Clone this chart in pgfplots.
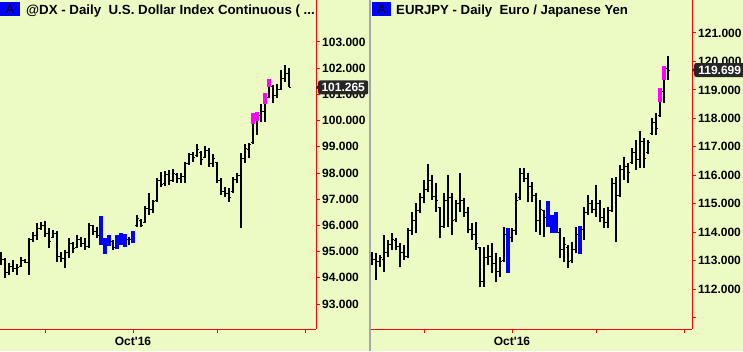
\documentclass[border=0pt]{standalone}
\usepackage{pgfplots}
\pgfplotsset{compat=1.18}
\usepackage{pgfplotstable}
\usepackage{fontspec}
\setmainfont{Liberation Sans}
\definecolor{bg}{RGB}{236,251,196}
\definecolor{pblue}{RGB}{0,0,255}
\definecolor{pmag}{RGB}{255,0,255}
\definecolor{pred}{RGB}{255,0,0}

\pgfplotstableread{
x o h l c
-11 94.60 95.00 94.49 94.70
-10 94.70 94.74 93.98 94.20
-9 94.20 94.55 94.11 94.45
-8 94.45 94.68 94.23 94.35
-7 94.35 94.53 94.09 94.40
-6 94.45 94.78 94.43 94.65
-5 94.65 94.70 94.55 94.60
-4 94.60 95.51 94.11 95.45
-3 95.45 95.76 95.38 95.60
-2 95.60 96.08 95.44 95.90
-1 95.90 96.14 95.82 96.00
0 96.00 96.18 95.57 95.70
1 95.70 95.89 95.13 95.40
2 95.55 95.82 95.51 95.70
3 95.70 95.80 94.62 94.80
4 94.80 95.00 94.62 94.75
5 94.75 95.06 94.36 94.95
6 94.95 95.51 94.74 95.30
7 95.30 95.38 94.93 95.10
8 95.15 95.63 95.13 95.45
9 95.45 95.57 95.19 95.30
10 95.30 95.51 95.06 95.20
11 95.20 96.08 95.13 96.00
12 96.00 96.02 95.63 95.75
13 95.75 95.93 95.51 95.60
17 95.40 95.44 95.06 95.15
21 95.45 95.57 95.25 95.45
23 96.00 96.40 95.95 96.25
24 96.20 96.26 95.93 96.00
25 96.10 96.75 96.08 96.65
26 96.65 97.25 96.40 96.60
27 96.60 96.97 96.46 96.90
28 96.95 97.80 96.91 97.70
29 97.70 98.05 97.45 97.55
30 97.60 98.09 97.50 97.95
31 97.95 98.11 97.54 97.70
32 97.70 98.14 97.67 98.00
33 97.95 97.99 97.60 97.80
34 97.80 97.99 97.63 97.85
35 97.85 98.43 97.60 98.35
36 98.35 98.78 98.31 98.70
37 98.70 98.81 98.43 98.60
38 98.65 99.11 98.62 98.90
39 98.80 98.85 98.31 98.50
40 98.60 99.03 98.56 98.85
41 98.85 98.94 98.24 98.35
42 98.35 98.73 98.22 98.55
43 98.40 98.43 97.60 97.70
44 97.70 97.80 97.16 97.30
45 97.30 97.48 97.10 97.20
46 97.20 97.42 96.91 97.05
47 97.30 97.86 97.22 97.75
48 97.75 98.01 97.60 97.90
49 97.90 98.75 95.89 98.55
50 98.55 99.11 98.37 98.95
51 98.90 99.13 98.56 99.10
52 99.15 100.30 99.11 100.10
53 100.10 100.32 99.45 100.20
54 100.20 100.62 99.96 100.35
55 100.35 101.07 99.96 100.90
56 100.90 101.59 100.85 101.40
57 101.30 101.36 100.66 100.95
58 100.95 101.38 100.85 101.20
59 101.20 101.93 101.17 101.60
60 101.60 102.12 101.49 101.80
61 101.80 102.02 101.27 101.265
}\dxbars

\pgfplotstableread{
x lo hi
14 95.25 96.37
15 94.90 95.53
16 95.23 95.65
18 95.09 95.65
19 95.25 95.71
20 95.19 95.67
22 95.34 95.79
}\dxblue

\pgfplotstableread{
x lo hi
52 99.87 100.30
53 100.00 100.32
55 100.63 101.07
56 101.30 101.59
}\dxmag

\pgfplotstableread{
x o h l c
-13 113.00 113.31 112.84 113.05
-12 113.05 113.25 112.31 112.95
-11 112.95 113.19 112.79 113.10
-10 113.05 113.90 112.61 113.30
-9 113.30 113.72 113.14 113.55
-8 113.55 113.96 113.37 113.75
-7 113.70 113.78 113.37 113.50
-6 113.50 113.60 112.76 113.30
-5 113.30 113.55 113.02 113.15
-4 113.15 114.13 113.08 114.05
-3 114.05 114.72 113.90 114.40
-2 114.40 115.01 113.96 114.75
-1 114.75 115.36 114.66 115.20
0 115.20 115.83 115.01 115.50
1 115.50 116.39 115.42 115.80
2 115.80 116.01 115.13 115.25
3 115.25 115.71 114.72 115.10
4 114.85 114.89 113.78 114.20
5 114.20 115.36 114.13 115.10
6 115.10 116.01 114.19 115.20
7 115.20 115.36 113.90 114.40
8 114.45 115.13 114.37 115.00
9 115.00 116.07 114.72 115.10
10 115.10 115.19 114.54 114.70
11 114.70 114.89 113.96 114.10
12 114.10 114.31 113.72 113.90
13 113.90 114.37 113.37 113.60
14 113.45 113.49 112.06 112.25
15 112.25 113.49 112.08 113.10
16 113.10 113.55 112.84 113.15
17 113.15 113.60 112.55 112.90
18 112.90 113.25 112.26 112.60
19 112.60 113.14 112.43 112.95
20 113.00 114.19 112.96 113.90
22 113.80 114.13 113.66 114.05
23 114.05 115.36 113.90 115.10
24 115.20 116.24 115.13 116.05
25 116.05 116.24 115.77 115.90
26 115.90 116.07 115.07 115.60
27 115.60 115.77 115.07 115.30
28 115.30 115.36 114.02 114.40
29 114.40 115.13 113.90 114.80
30 114.75 114.78 113.84 114.50
34 114.00 114.13 113.08 113.40
35 113.40 113.84 112.96 113.55
36 113.45 113.55 112.73 112.95
37 113.00 113.66 112.90 113.40
38 113.40 114.19 113.25 113.90
40 114.10 114.89 113.72 114.70
41 114.70 115.30 114.60 115.00
42 115.00 115.13 114.66 114.80
43 114.80 115.66 114.54 115.00
44 115.00 115.13 114.37 114.50
45 114.50 114.84 114.13 114.35
46 114.35 114.89 114.13 114.75
47 114.75 115.89 114.72 115.70
48 115.70 115.95 113.66 115.30
49 115.30 116.36 115.25 116.20
50 116.20 116.65 115.83 116.30
51 116.30 116.42 115.71 116.10
52 116.45 116.95 116.40 116.80
53 116.80 117.25 116.20 116.55
54 116.55 117.55 116.25 117.20
55 117.20 117.30 116.25 116.60
56 116.80 117.25 116.75 117.15
57 117.45 118.00 117.40 117.85
58 117.85 118.20 117.40 117.65
59 118.10 119.07 118.05 118.95
60 118.95 119.84 118.54 119.75
61 119.75 120.19 119.35 119.699
}\ejbars

\pgfplotstableread{
x lo hi
21 112.55 114.16
31 114.17 115.09
32 113.96 114.60
33 113.96 114.72
39 113.22 114.21
}\ejblue

\pgfplotstableread{
x lo hi
59 118.57 119.07
60 119.35 119.84
}\ejmag

\pgfplotsset{
  ohlc/.style={
    anchor=south west, scale only axis,
    axis x line*=bottom, axis y line*=right,
    axis line style={pred, line width=1pt, -},
    tick style={pred, line width=1pt},
    major tick length=4pt, tick align=outside,
    axis background/.style={fill=bg},
    yticklabel style={font=\bfseries\fontsize{12}{12}\selectfont, text=black, anchor=west, inner sep=0pt, xshift=2pt},
    xticklabel style={font=\bfseries\fontsize{12}{12}\selectfont, text=black, anchor=north, inner sep=0pt, yshift=-4pt},
    yticklabel={\pgfmathprintnumber[fixed, fixed zerofill, precision=3, assume math mode=true]{\tick}},
    xtick={0,22,43,65}, xticklabels={,Oct\textquotesingle 16,,},
  },
  hl/.style={draw=none, mark=none, forget plot, error bars/.cd, y dir=plus, y explicit, error mark=none,
    error bar style={draw=black, line width=1.3pt}},
  optick/.style={draw=none, mark=none, forget plot, error bars/.cd, x dir=minus, x fixed=0.55, error mark=none,
    error bar style={draw=black, line width=1pt}},
  cltick/.style={draw=none, mark=none, forget plot, error bars/.cd, x dir=plus, x fixed=0.55, error mark=none,
    error bar style={draw=black, line width=1pt}},
  paint/.style={draw=none, mark=none, forget plot, error bars/.cd, y dir=plus, y explicit, error mark=none,
    error bar style={draw=#1, line width=3.2pt}},
}

\begin{document}
\begin{tikzpicture}
\useasboundingbox (0pt,0pt) rectangle (743pt,351pt);
\fill[bg] (0pt,0pt) rectangle (743pt,351pt);

\begin{axis}[ohlc, at={(0pt,22pt)}, width=316pt, height=329pt,
  xmin=-11.25, xmax=67.75, ymin=92.046, ymax=104.603,
  ytick={93,94,...,103}]
\addplot[hl] table[x=x, y=l, y error expr=\thisrow{h}-\thisrow{l}] {\dxbars};
\addplot[optick] table[x=x, y=o] {\dxbars};
\addplot[cltick] table[x=x, y=c] {\dxbars};
\addplot[paint=pblue] table[x=x, y=lo, y error expr=\thisrow{hi}-\thisrow{lo}] {\dxblue};
\addplot[paint=pmag] table[x=x, y=lo, y error expr=\thisrow{hi}-\thisrow{lo}] {\dxmag};
\coordinate (b1) at (axis cs:67.75,101.265);
\end{axis}

\begin{axis}[ohlc, at={(371pt,22pt)}, width=321pt, height=329pt,
  xmin=-13.25, xmax=67, ymin=110.594, ymax=122.160,
  ytick={112,113,...,121}, extra y ticks={111}, extra y tick labels={}]
\addplot[hl] table[x=x, y=l, y error expr=\thisrow{h}-\thisrow{l}] {\ejbars};
\addplot[optick] table[x=x, y=o] {\ejbars};
\addplot[cltick] table[x=x, y=c] {\ejbars};
\addplot[paint=pblue] table[x=x, y=lo, y error expr=\thisrow{hi}-\thisrow{lo}] {\ejblue};
\addplot[paint=pmag] table[x=x, y=lo, y error expr=\thisrow{hi}-\thisrow{lo}] {\ejmag};
\coordinate (b2) at (axis cs:67,119.699);
\end{axis}

\draw[gray!70, line width=1.5pt] (370pt,0pt)--(370pt,351pt);

% titles
\fill[pblue] (0pt,335pt) rectangle (20pt,349pt);
\node[anchor=center, inner sep=0pt, font=\fontsize{12.5}{12.5}\selectfont] at (10pt,342pt) {A};
\node[anchor=base west, inner sep=0pt, font=\bfseries\fontsize{13.3}{13.3}\selectfont] at (26pt,336.5pt) {@DX - Daily\ \ U.S. Dollar Index Continuous ( ...};
\fill[pblue] (372pt,335pt) rectangle (391pt,349pt);
\node[anchor=center, inner sep=0pt, font=\fontsize{12.5}{12.5}\selectfont] at (381.5pt,342pt) {A};
\node[anchor=base west, inner sep=0pt, font=\bfseries\fontsize{13.2}{13.2}\selectfont] at (396pt,336.5pt) {EURJPY - Daily\ \ Euro / Japanese Yen};

% price badges
\fill[black!85] (b1) -- ++(3pt,3pt) -- ++(0pt,-6pt) -- cycle;
\node[fill=black!85, rounded corners=2pt, text=white, anchor=west, inner sep=0pt,
  minimum width=50pt, minimum height=14pt, font=\bfseries\fontsize{12}{12}\selectfont] at ([xshift=2pt]b1) {101.265};
\fill[black!85] (b2) -- ++(3pt,3pt) -- ++(0pt,-6pt) -- cycle;
\node[fill=black!85, rounded corners=2pt, text=white, anchor=west, inner sep=0pt,
  minimum width=51pt, minimum height=14pt, font=\bfseries\fontsize{12}{12}\selectfont] at ([xshift=2pt]b2) {119.699};
\end{tikzpicture}
\end{document}
